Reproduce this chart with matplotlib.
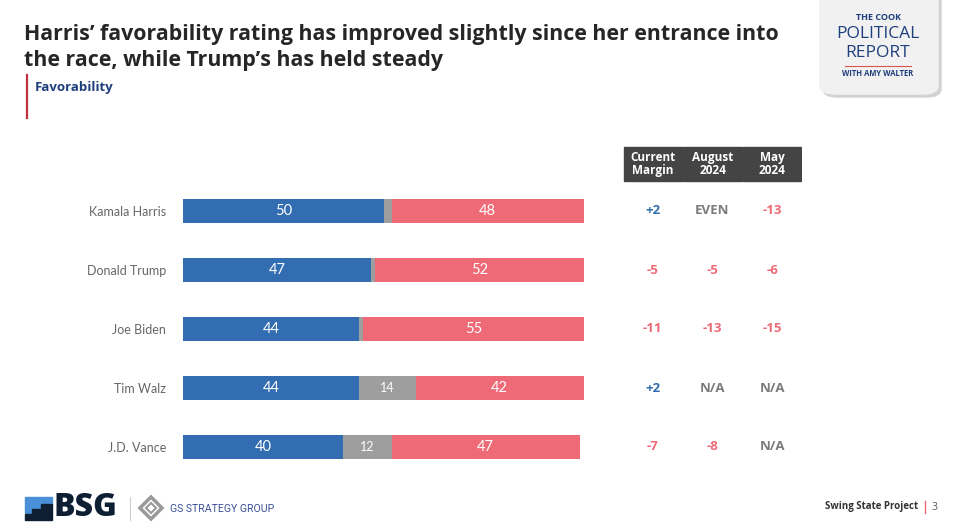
import numpy as np
import matplotlib
matplotlib.use('Agg')
import matplotlib.pyplot as plt
from matplotlib.patches import FancyBboxPatch, Rectangle, Polygon
from matplotlib.lines import Line2D

plt.rcParams['font.family'] = ['Open Sans', 'DejaVu Sans']

# data
names = ['Kamala Harris', 'Donald Trump', 'Joe Biden', 'Tim Walz', 'J.D. Vance']
favorable = [50, 47, 44, 44, 40]
neutral = [2, 1, 1, 14, 12]
unfavorable = [48, 52, 55, 42, 47]
neutral_labels = ['', '', '', '14', '12']

table_cols = ['Current\nMargin', 'August\n2024', 'May\n2024']
current_margin = ['+2', '-5', '-11', '+2', '-7']
august_2024 = ['EVEN', '-5', '-13', 'N/A', '-8']
may_2024 = ['-13', '-6', '-15', 'N/A', 'N/A']

BLUE = '#326db2'
RED = '#ee6a77'
GRAY = '#9e9e9e'
NAVY = '#1f3e7c'
W, H = 960, 528

fig = plt.figure(figsize=(9.6, 5.28), dpi=100)

def px(x, y):
    return x / W, 1 - y / H

def ax_box(x0, x1, ytop, ybot):
    return [x0 / W, 1 - ybot / H, (x1 - x0) / W, (ybot - ytop) / H]

# pixel mapping for rows
row0, step = 211, 59
ytop, ybot = 140, 477
ylim = ((ybot - row0) / step, (ytop - row0) / step)

# --- bars
ax = fig.add_axes(ax_box(183, 584, ytop, ybot))
y = np.arange(len(names))
bh = 24 / step
fav = np.array(favorable)
neu = np.array(neutral)
unf = np.array(unfavorable)
ax.barh(y, fav, height=bh, color=BLUE)
ax.barh(y, neu, left=fav, height=bh, color=GRAY)
ax.barh(y, unf, left=fav + neu, height=bh, color=RED)
for i in range(len(names)):
    ax.text(fav[i] / 2, i, str(fav[i]), color='white', ha='center', va='center', fontsize=10.5,
            family=['Lato', 'DejaVu Sans'])
    if neutral_labels[i]:
        ax.text(fav[i] + neu[i] / 2, i, neutral_labels[i], color='white', ha='center', va='center',
                fontsize=9, family=['Lato', 'DejaVu Sans'])
    ax.text(fav[i] + neu[i] + unf[i] / 2, i, str(unf[i]), color='white', ha='center', va='center',
            fontsize=10.5, family=['Lato', 'DejaVu Sans'])
ax.set_xlim(0, 100)
ax.set_ylim(*ylim)
ax.set_yticks(y)
ax.set_yticklabels(names, fontsize=9, color='#666666', family=['Lato', 'DejaVu Sans'])
ax.tick_params(axis='y', length=0, pad=12)
ax.set_xticks([])
for s in ax.spines.values():
    s.set_visible(False)
ax.patch.set_alpha(0)

# --- table
tx = fig.add_axes(ax_box(623, 802, ytop, ybot))
tx.set_xlim(0, 3)
tx.set_ylim(*ylim)
tx.axis('off')
hy = (164 - row0) / step
hh = 34 / step
for j, lab in enumerate(table_cols):
    tx.add_patch(Rectangle((j + 0.01, hy - hh / 2), 0.98, hh, color='#444444'))
    tx.text(j + 0.5, hy, lab, color='white', ha='center', va='center', fontsize=8.5,
            fontweight='bold', linespacing=1.0)

def val_color(v):
    if v.startswith('+'):
        return BLUE
    if v.startswith('-'):
        return RED
    return '#7b7b7b'

for j, col in enumerate([current_margin, august_2024, may_2024]):
    for i, v in enumerate(col):
        tx.text(j + 0.5, i, v, color=val_color(v), ha='center', va='center', fontsize=9.5, fontweight='bold')

# --- title
fig.text(*px(24, 40), "Harris\u2019 favorability rating has improved slightly since her entrance into",
         fontsize=15.4, fontweight='bold', color='#262626', va='baseline')
fig.text(*px(24, 66), "the race, while Trump\u2019s has held steady",
         fontsize=15.4, fontweight='bold', color='#262626', va='baseline')
fig.text(*px(35, 87), 'Favorability', fontsize=9.5, fontweight='bold', color=NAVY, va='center')
fig.add_artist(Line2D([27 / W, 27 / W], [1 - 75 / H, 1 - 118 / H], color='#c0313b', lw=1.6))

# --- logo box
shadow = FancyBboxPatch(px(823, 97), 118 / W, 110 / H, boxstyle='round,pad=0,rounding_size=0.015',
                        transform=fig.transFigure, color='#d2d2d2', zorder=1)
box = FancyBboxPatch(px(820, 94), 118 / W, 110 / H, boxstyle='round,pad=0,rounding_size=0.015',
                     transform=fig.transFigure, color='#f1f1f1', zorder=2)
fig.add_artist(shadow)
fig.add_artist(box)
fig.text(*px(878, 18), 'THE COOK', fontsize=6.5, fontweight='bold', color=NAVY, ha='center', va='center', zorder=3)
fig.text(*px(878, 34), 'POLITICAL', fontsize=12.5, color=NAVY, ha='center', va='center', zorder=3)
fig.text(*px(878, 53), 'REPORT', fontsize=12.5, color=NAVY, ha='center', va='center', zorder=3)
fig.add_artist(Line2D([845 / W, 911 / W], [1 - 66 / H] * 2, color='#d9534f', lw=0.8, zorder=3))
fig.text(*px(878, 74), 'WITH AMY WALTER', fontsize=5.5, fontweight='bold', color=NAVY, ha='center', va='center', zorder=3)

# --- footer
fig.add_artist(Polygon([px(25, 497), px(52, 497), px(52, 503), px(40, 503), px(40, 508), px(32, 508),
                        px(32, 513), px(25, 513)], closed=True, color='#4a90d9', transform=fig.transFigure))
fig.add_artist(Polygon([px(25, 514), px(32, 514), px(32, 509), px(41, 509), px(41, 504), px(52, 504),
                        px(52, 520), px(25, 520)], closed=True, color='#0e1f33', transform=fig.transFigure))
fig.text(*px(53, 508), 'BSG', fontsize=23, fontweight='heavy', color='#0e1f33', va='center')
fig.add_artist(Line2D([130 / W, 130 / W], [1 - 497 / H, 1 - 520 / H], color='#cccccc', lw=0.8))
fig.add_artist(Polygon([px(151, 497), px(162, 508), px(151, 519), px(140, 508)], closed=True,
                       fill=False, ec='#999999', lw=2.5, transform=fig.transFigure))
fig.add_artist(Polygon([px(151, 503), px(156, 508), px(151, 513), px(146, 508)], closed=True,
                       fill=False, ec='#999999', lw=1.5, transform=fig.transFigure))
fig.text(*px(170, 509), 'GS STRATEGY GROUP', fontsize=7.6, color='#3b5199', va='center',
         family=['Roboto', 'DejaVu Sans'])
fig.text(*px(918, 507), 'Swing State Project', fontsize=7, fontweight='bold', color='#333333', ha='right', va='center')
fig.add_artist(Line2D([925 / W, 925 / W], [1 - 501 / H, 1 - 513 / H], color=RED, lw=1))
fig.text(*px(932, 507), '3', fontsize=7.5, color='#555555', va='center')

fig.savefig('out.png', dpi=100)
